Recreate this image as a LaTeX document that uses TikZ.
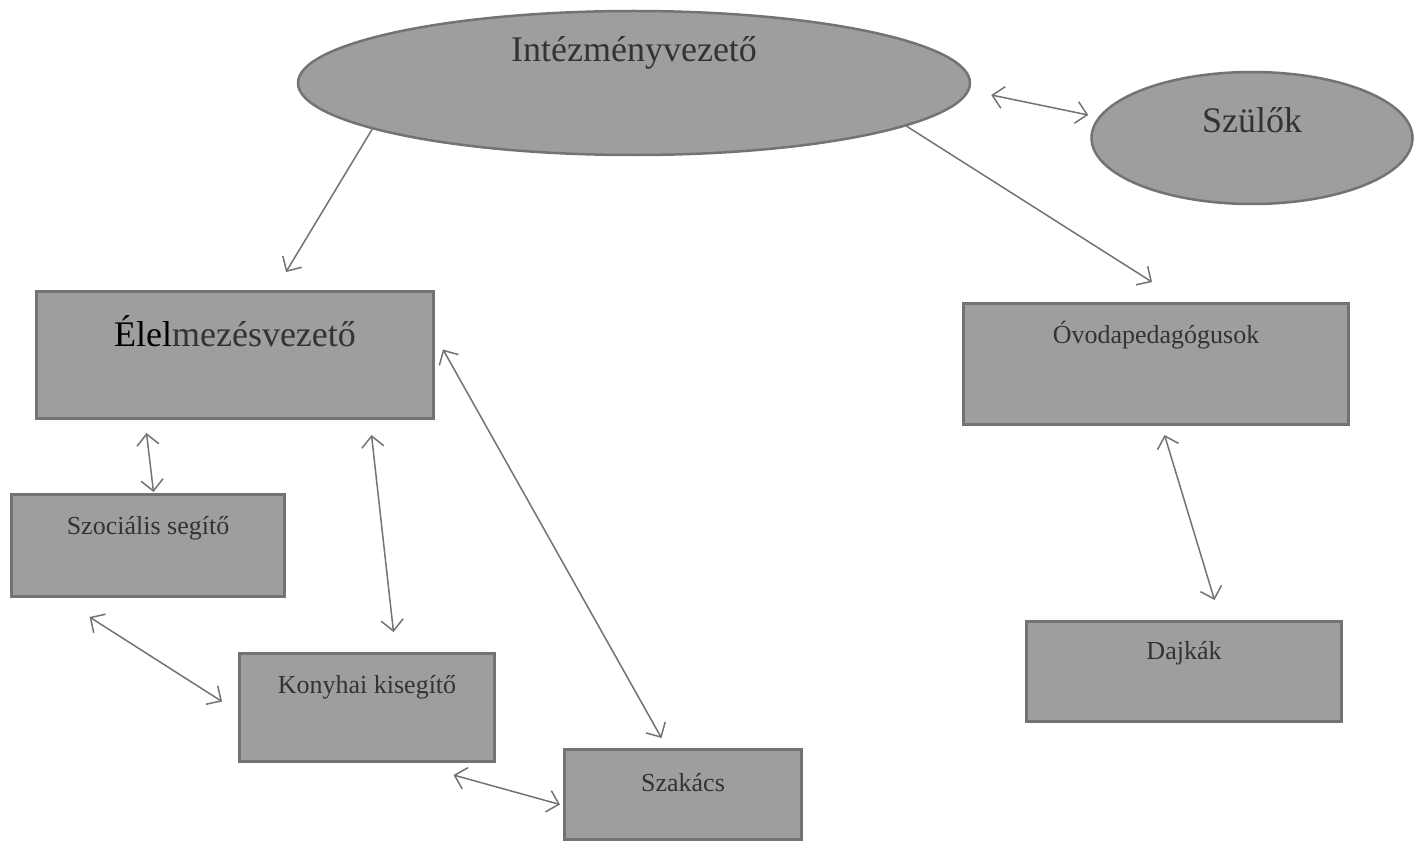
\documentclass[tikz,border=0pt]{standalone}
\usepackage{fontspec}
\setmainfont{Liberation Serif}
\usetikzlibrary{shapes.geometric,arrows.meta}

\begin{document}
\begin{tikzpicture}[x=1pt, y=-1pt,
  bigfont/.style={font=\fontsize{36}{40}\selectfont},
  smallfont/.style={font=\fontsize{26}{30}\selectfont},
  oval/.style={ellipse, draw=black!55, line width=2.5pt, fill=black!38, text=black!80, inner sep=0pt},
  box/.style={rectangle, draw=black!55, line width=3pt, fill=black!38, text=black!80, inner sep=0pt, anchor=north west},
  tolink/.style={draw=black!55, line width=1.5pt, -{Straight Barb[length=11pt,width=22pt]}},
  link/.style={draw=black!55, line width=1.5pt, {Straight Barb[length=11pt,width=22pt]}-{Straight Barb[length=11pt,width=22pt]}}]

\fill[white] (0,0) rectangle (1423,840);
\useasboundingbox (0,0) rectangle (1423,840);

% vezetes
\node[oval, bigfont, minimum width=672pt, minimum height=144pt, text height=28pt, text depth=70pt] (intez) at (634,83) {Intézményvezető};
\node[oval, bigfont, minimum width=321pt, minimum height=132pt, text height=28pt, text depth=40pt] (szulo) at (1252,138) {Szülők};

% konyha oldal
\node[box, bigfont, minimum width=397pt, text height=55pt, text depth=72pt] (elel) at (35,290) {{\color{black}Élel}mezésvezető};
\node[box, smallfont, minimum width=273pt, text height=40pt, text depth=62pt] (szoc) at (10,493) {Szociális segítő};
\node[box, smallfont, minimum width=255pt, text height=40pt, text depth=68pt] (konyha) at (238,652) {Konyhai kisegítő};
\node[box, smallfont, minimum width=237pt, text height=42pt, text depth=48pt] (szakacs) at (563,748) {Szakács};

% ovoda oldal
\node[box, smallfont, minimum width=385pt, text height=40pt, text depth=81pt] (ovoda) at (962,302) {Óvodapedagógusok};
\node[box, smallfont, minimum width=315pt, text height=38pt, text depth=62pt] (dajka) at (1025,620) {Dajkák};

\draw[tolink] (intez.-170) -- ([xshift=51pt,yshift=18pt]elel.north);
\draw[tolink] (intez.-9) -- ([xshift=-4pt,yshift=20pt]ovoda.north);
\draw[link] ([xshift=20pt,yshift=-12pt]intez.east) -- ([xshift=-2pt,yshift=23pt]szulo.west);

\draw[link] ([xshift=-88.5pt,yshift=-13pt]elel.south) -- ([xshift=5.5pt,yshift=1pt]szoc.north);
\draw[link] ([xshift=136.5pt,yshift=-15pt]elel.south) -- ([xshift=26.5pt,yshift=20pt]konyha.north);
\draw[link] ([xshift=8pt,yshift=5.5pt]elel.east) -- ([xshift=-21.5pt,yshift=10pt]szakacs.north);
\draw[link] ([xshift=-58.5pt,yshift=-19pt]szoc.south) -- ([xshift=-16pt,yshift=6pt]konyha.west);
\draw[link] ([xshift=86.5pt,yshift=-12pt]konyha.south) -- ([xshift=-3pt,yshift=-10pt]szakacs.west);

\draw[link] ([xshift=8.5pt,yshift=-9pt]ovoda.south) -- ([xshift=30.5pt,yshift=20pt]dajka.north);
\end{tikzpicture}
\end{document}
